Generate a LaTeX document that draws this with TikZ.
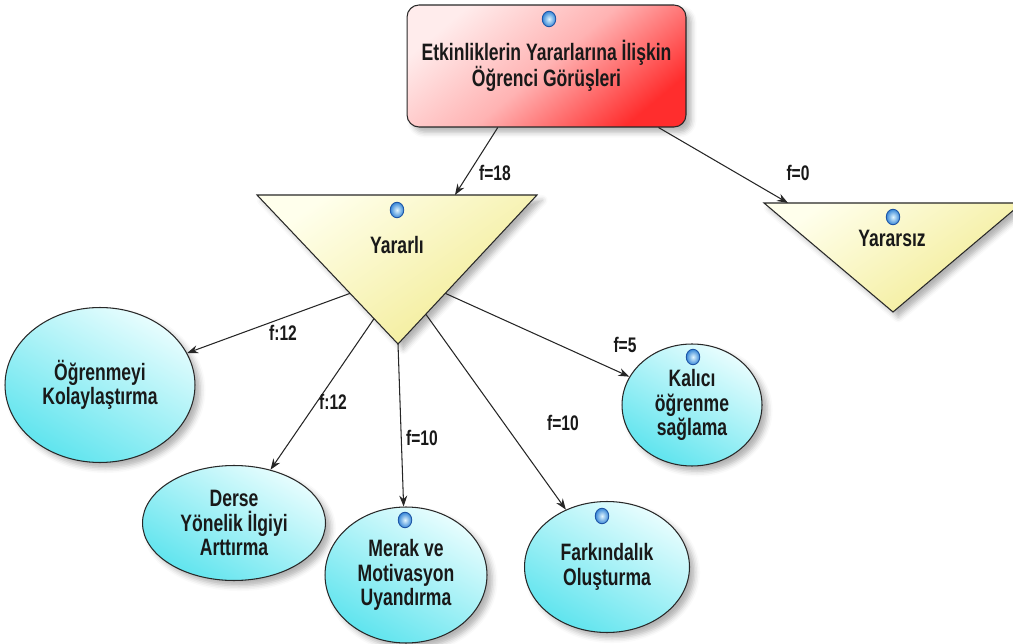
\documentclass[tikz,border=0pt]{standalone}
\usepackage{fontspec}
\setmainfont{Liberation Sans}[FakeStretch=0.74]
\usetikzlibrary{shapes.geometric,arrows.meta,calc,shadows.blur}

\definecolor{rootlight}{RGB}{255,236,236}
\definecolor{rootdark}{RGB}{255,45,45}
\definecolor{trilight}{RGB}{255,255,236}
\definecolor{tridark}{RGB}{242,235,145}
\definecolor{elllight}{RGB}{232,253,254}
\definecolor{elldark}{RGB}{95,228,238}
\definecolor{dotin}{RGB}{225,246,255}
\definecolor{dotout}{RGB}{55,135,215}
\definecolor{dotline}{RGB}{30,85,165}
\definecolor{outline}{RGB}{40,40,40}

\begin{document}
\begin{tikzpicture}[x=0.02cm,y=-0.02cm,
  txt/.style={font=\bfseries\fontsize{13.5}{14}\selectfont, text=black!90, align=center},
  lbl/.style={font=\bfseries\fontsize{12}{13}\selectfont, text=black!90},
  soft/.style={blur shadow={shadow xshift=3pt, shadow yshift=-3pt, shadow blur radius=3pt, shadow opacity=30}},
  rootbox/.style={txt, draw=outline, line width=0.6pt, rounded corners=0.24cm,
    minimum width=5.58cm, minimum height=2.44cm, inner sep=0pt,
    top color=rootlight, bottom color=rootdark, middle color=rootlight!70!rootdark, shading angle=40, soft},
  tri/.style={draw=outline, line width=0.6pt, top color=trilight, bottom color=tridark, shading angle=35, soft},
  bubble/.style={txt, ellipse, draw=outline, line width=0.6pt, inner sep=0pt,
    top color=elllight, bottom color=elldark, shading angle=-30, soft},
  dot/.style={ellipse, minimum width=0.27cm, minimum height=0.31cm, inner sep=0pt,
    draw=dotline, line width=0.5pt, inner color=dotin, outer color=dotout},
  conn/.style={draw=black!85, line width=0.6pt, -{Stealth[length=0.22cm, width=0.16cm]}}]

\useasboundingbox (0,0) rectangle (1013,644);
\clip (0,0) rectangle (1013,644);

% root box
\node[rootbox] (root) at (546.5,66) {Etkinliklerin Yararlarına İlişkin\\[-0.5pt]Öğrenci Görüşleri};
\node[dot] (rootdot) at (549,19) {};

% triangle "Yararlı"
\coordinate (yL) at (257,195);
\coordinate (yR) at (537,195);
\coordinate (yA) at (398,344);
\path[tri] (yL) -- (yR) -- (yA) -- cycle;
\node[dot] (ydot) at (397,210) {};
\node[txt] (yararli) at (397,245) {Yararlı};

% triangle "Yararsız"
\coordinate (nL) at (764,203);
\coordinate (nR) at (1022,203);
\coordinate (nA) at (893,312);
\path[tri] (nL) -- (nR) -- (nA) -- cycle;
\node[dot] (ndot) at (893,217) {};
\node[txt] (yararsiz) at (892,238) {Yararsız};

% outcome ellipses
\node[bubble, minimum width=3.8cm, minimum height=3.1cm] (e1) at (100,385) {Öğrenmeyi\\Kolaylaştırma};
\node[bubble, minimum width=3.66cm, minimum height=2.3cm] (e2) at (234,523) {Derse\\Yönelik İlgiyi\\Arttırma};
\node[bubble, minimum width=3.24cm, minimum height=2.72cm] (e3) at (406,575) {Merak ve\\Motivasyon\\Uyandırma};
\node[bubble, minimum width=3.3cm, minimum height=2.62cm] (e4) at (607,567) {Farkındalık\\Oluşturma};
\node[bubble, minimum width=2.8cm, minimum height=2.44cm] (e5) at (692,405) {Kalıcı\\öğrenme\\sağlama};
\node[dot] (dot3) at (405,520) {};
\node[dot] (dot4) at (602,516) {};
\node[dot] (dot5) at (693,357) {};

% connectors from the root
\coordinate (r1) at ($(root.south west)!0.326!(root.south east)$);
\coordinate (r2) at ($(root.south west)!0.9!(root.south east)$);
\coordinate (t1) at ($(yL)!0.707!(yR)$);
\coordinate (t2) at (788,203);
\draw[conn] (r1) -- (t1);
\draw[conn] (r2) -- (t2);
\node[lbl] (f18) at (495,173) {f=18};
\node[lbl] (f0) at (798,173) {f=0};

% connectors from "Yararlı"
\coordinate (s1) at ($(yL)!0.66!(yA)$);
\coordinate (s2) at ($(yL)!0.83!(yA)$);
\coordinate (s4) at ($(yR)!0.8!(yA)$);
\coordinate (s5) at ($(yR)!0.66!(yA)$);
\draw[conn] (s1) -- (e1);
\draw[conn] (s2) -- (e2);
\draw[conn] (yA) -- (e3);
\draw[conn] (s4) -- (e4);
\draw[conn] (s5) -- (e5);
\node[lbl] (l1) at (283,333) {f:12};
\node[lbl] (l2) at (333,402) {f:12};
\node[lbl] (l3) at (422,438) {f=10};
\node[lbl] (l4) at (563,423) {f=10};
\node[lbl] (l5) at (625,345) {f=5};
\end{tikzpicture}
\end{document}
